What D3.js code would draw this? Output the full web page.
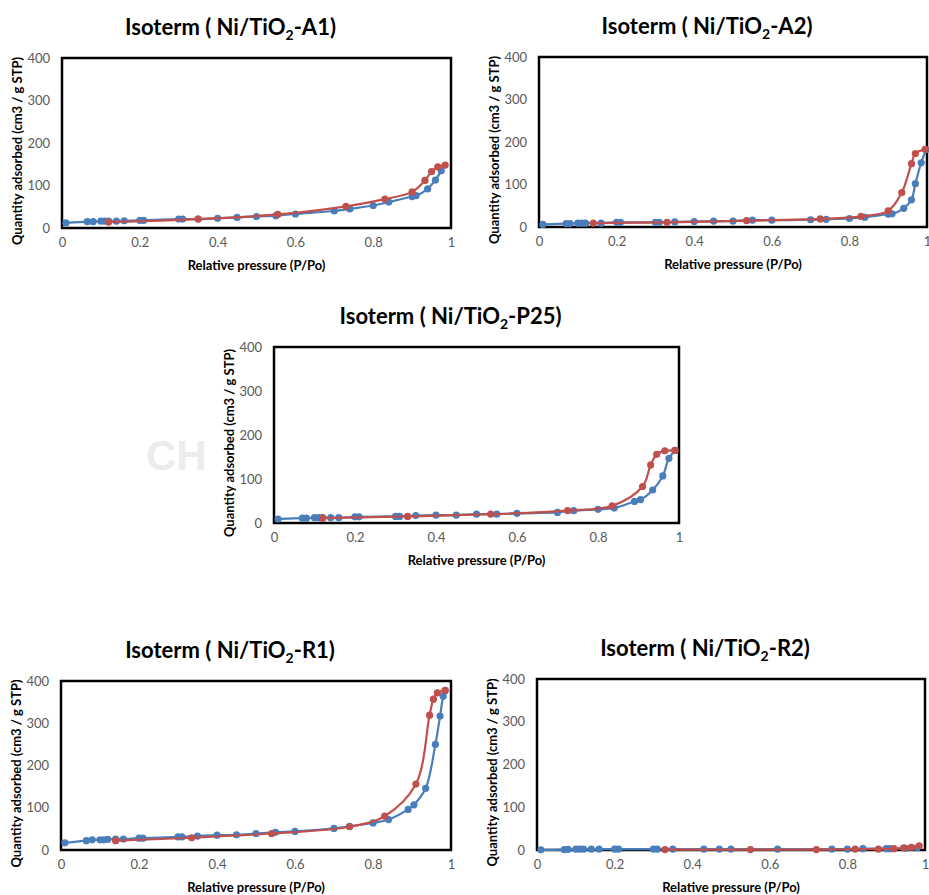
<!DOCTYPE html>
<html>
<head>
<meta charset="utf-8">
<script src="https://cdn.jsdelivr.net/npm/d3@7"></script>
<style>
  body { margin: 0; background: #fff; }
  svg { display: block; }
</style>
</head>
<body>
<div id="chart"></div>
<script>
"use strict";

// tick labels shared by every panel
var xTicks = [0, 0.2, 0.4, 0.6, 0.8, 1];
var yTicks = [0, 100, 200, 300, 400];
var sampleNames = ["A1", "A2", "P25", "R1", "R2"];

// adsorption (blue) and desorption (red) branches, [P/Po, cm3/g STP]
var adsA1 = [[0.01,12],[0.065,15],[0.08,15],[0.1,16],[0.11,16],[0.12,16],[0.14,16],[0.16,17],[0.2,18],[0.21,18],
  [0.3,21],[0.31,21],[0.35,21],[0.4,23],[0.45,25],[0.5,27],[0.55,29],[0.6,33],[0.7,40],[0.74,45],
  [0.8,53],[0.84,61],[0.9,74],[0.91,76],[0.94,92],[0.96,113],[0.975,135]];
var desA1 = [[0.985,148],[0.966,144],[0.95,133],[0.933,112],[0.9,85],[0.83,68],[0.73,51],[0.555,32],[0.35,21],[0.12,14]];

var adsA2 = [[0.01,6],[0.07,8],[0.08,8],[0.1,9],[0.11,9],[0.12,9],[0.16,9],[0.2,11],[0.21,11],[0.3,11],[0.31,11],
  [0.35,12],[0.4,13],[0.45,14],[0.5,14],[0.55,16],[0.6,16],[0.7,17],[0.74,18],[0.8,20],[0.84,23],
  [0.9,30],[0.91,31],[0.94,44],[0.96,64],[0.97,102],[0.985,151],[0.998,182]];
var desA2 = [[0.995,183],[0.97,173],[0.96,149],[0.935,81],[0.9,38],[0.83,25],[0.725,19],[0.535,15],[0.33,11],[0.14,9]];

var adsP25 = [[0.01,9],[0.07,11],[0.08,11],[0.1,12],[0.11,12],[0.12,12],[0.14,12],[0.16,12],[0.2,14],[0.21,14],
  [0.3,15],[0.31,15],[0.35,17],[0.4,18],[0.45,18],[0.5,20],[0.55,20],[0.6,22],[0.7,24],[0.74,28],
  [0.8,31],[0.84,34],[0.89,49],[0.905,53],[0.935,75],[0.96,107],[0.975,147],[0.99,165]];
var desP25 = [[0.99,165],[0.965,164],[0.945,156],[0.93,132],[0.91,83],[0.835,39],[0.725,28],[0.535,20],[0.33,15],[0.12,11]];

var adsR1 = [[0.01,17],[0.065,22],[0.08,24],[0.1,24],[0.11,24],[0.12,25],[0.14,26],[0.16,26],[0.2,28],[0.21,28],
  [0.3,31],[0.31,31],[0.35,33],[0.4,35],[0.45,36],[0.5,39],[0.55,42],[0.6,44],[0.7,51],[0.74,56],
  [0.8,64],[0.84,72],[0.89,96],[0.905,107],[0.935,146],[0.96,250],[0.972,317],[0.98,364],[0.985,377]];
var desR1 = [[0.985,378],[0.965,372],[0.955,357],[0.945,319],[0.91,156],[0.83,80],[0.74,55],[0.54,39],[0.335,29],[0.14,22]];

var adsR2 = [[0.01,0.5],[0.07,1],[0.08,1.5],[0.1,2],[0.11,2],[0.12,2],[0.14,2],[0.16,2],[0.2,2],[0.21,2],
  [0.3,2],[0.31,2],[0.35,2],[0.43,2],[0.47,2],[0.5,2],[0.62,2],[0.76,2],[0.8,2],[0.84,3],
  [0.9,3],[0.91,3],[0.95,4],[0.98,5]];
var desR2 = [[0.985,10],[0.965,6],[0.945,5],[0.92,3],[0.88,2],[0.82,2],[0.72,1],[0.55,1],[0.33,1]];

var adsSeries = [adsA1, adsA2, adsP25, adsR1, adsR2];
var desSeries = [desA1, desA2, desP25, desR1, desR2];

var blue = "#4a7ebb";
var red = "#c0504d";
var font = "Lato, 'Open Sans', sans-serif";

// plot-area boxes (pixel layout of each panel)
var boxes = [
  { left: 62,  right: 451, top: 58,  bottom: 228 },
  { left: 539, right: 927, top: 57,  bottom: 227 },
  { left: 274, right: 679, top: 347, bottom: 523 },
  { left: 61,  right: 451, top: 681, bottom: 850 },
  { left: 537, right: 925, top: 679, bottom: 850 }
];

var svg = d3.select("#chart").append("svg")
    .attr("width", 929)
    .attr("height", 895);

// faint watermark behind the middle panel
svg.append("text")
    .attr("x", 146).attr("y", 470)
    .attr("font-family", "'Liberation Sans', sans-serif")
    .attr("font-weight", "bold")
    .attr("font-size", 42)
    .attr("fill", "#ececec")
    .text("CH");

sampleNames.forEach(function(name, i) {
  drawPanel(name, boxes[i], adsSeries[i], desSeries[i]);
});

function drawPanel(name, b, ads, des) {
  var x = d3.scaleLinear().domain([0, 1]).range([b.left, b.right]);
  var y = d3.scaleLinear().domain([0, 400]).range([b.bottom, b.top]);
  var g = svg.append("g");
  var cx = (b.left + b.right) / 2 - 26;

  // title with subscript 2
  var t = g.append("text")
      .attr("x", cx)
      .attr("y", b.top - 23)
      .attr("text-anchor", "middle")
      .attr("font-family", font)
      .attr("font-weight", "bold")
      .attr("font-size", 22)
      .attr("fill", "#000");
  t.append("tspan").text("Isoterm ( Ni/TiO");
  t.append("tspan").attr("font-size", 14).attr("dy", 5).text("2");
  t.append("tspan").attr("dy", -5).text("-" + name + ")");

  // x axis labels
  var xAxis = d3.axisBottom(x).tickValues(xTicks).tickSize(0).tickPadding(10)
      .tickFormat(function(d) { return String(d); });
  var gx = g.append("g")
      .attr("transform", "translate(0," + b.bottom + ")")
      .call(xAxis);
  gx.select(".domain").remove();
  gx.selectAll("text").attr("font-family", font).attr("font-size", 13).attr("fill", "#595959");

  // y axis labels
  var yAxis = d3.axisLeft(y).tickValues(yTicks).tickSize(0).tickPadding(12);
  var gy = g.append("g")
      .attr("transform", "translate(" + b.left + ",0)")
      .call(yAxis);
  gy.select(".domain").remove();
  gy.selectAll("text").attr("font-family", font).attr("font-size", 13).attr("fill", "#595959");

  // axis titles
  g.append("text")
      .attr("x", cx + 26)
      .attr("y", b.bottom + 42)
      .attr("text-anchor", "middle")
      .attr("font-family", font)
      .attr("font-weight", "bold")
      .attr("font-size", 13)
      .attr("fill", "#000")
      .text("Relative pressure (P/Po)");

  g.append("text")
      .attr("transform", "translate(" + (b.left - 40) + "," + ((b.top + b.bottom) / 2 + 8) + ") rotate(-90)")
      .attr("text-anchor", "middle")
      .attr("font-family", font)
      .attr("font-weight", "bold")
      .attr("font-size", 13)
      .attr("fill", "#000")
      .text("Quantity adsorbed (cm3 / g STP)");

  // plot area border
  g.append("rect")
      .attr("x", b.left).attr("y", b.top)
      .attr("width", b.right - b.left).attr("height", b.bottom - b.top)
      .attr("fill", "none")
      .attr("stroke", "#000")
      .attr("stroke-width", 2.5);

  var line = d3.line()
      .x(function(d) { return x(d[0]); })
      .y(function(d) { return y(d[1]); })
      .curve(d3.curveCatmullRom.alpha(0.5));

  [[ads, blue], [des, red]].forEach(function(s) {
    g.append("path")
        .datum(s[0])
        .attr("d", line)
        .attr("fill", "none")
        .attr("stroke", s[1])
        .attr("stroke-width", 2.2);
    g.append("g").selectAll("circle").data(s[0])
      .join("circle")
        .attr("cx", function(d) { return x(d[0]); })
        .attr("cy", function(d) { return y(d[1]); })
        .attr("r", 3.6)
        .attr("fill", s[1]);
  });
}
</script>
</body>
</html>
